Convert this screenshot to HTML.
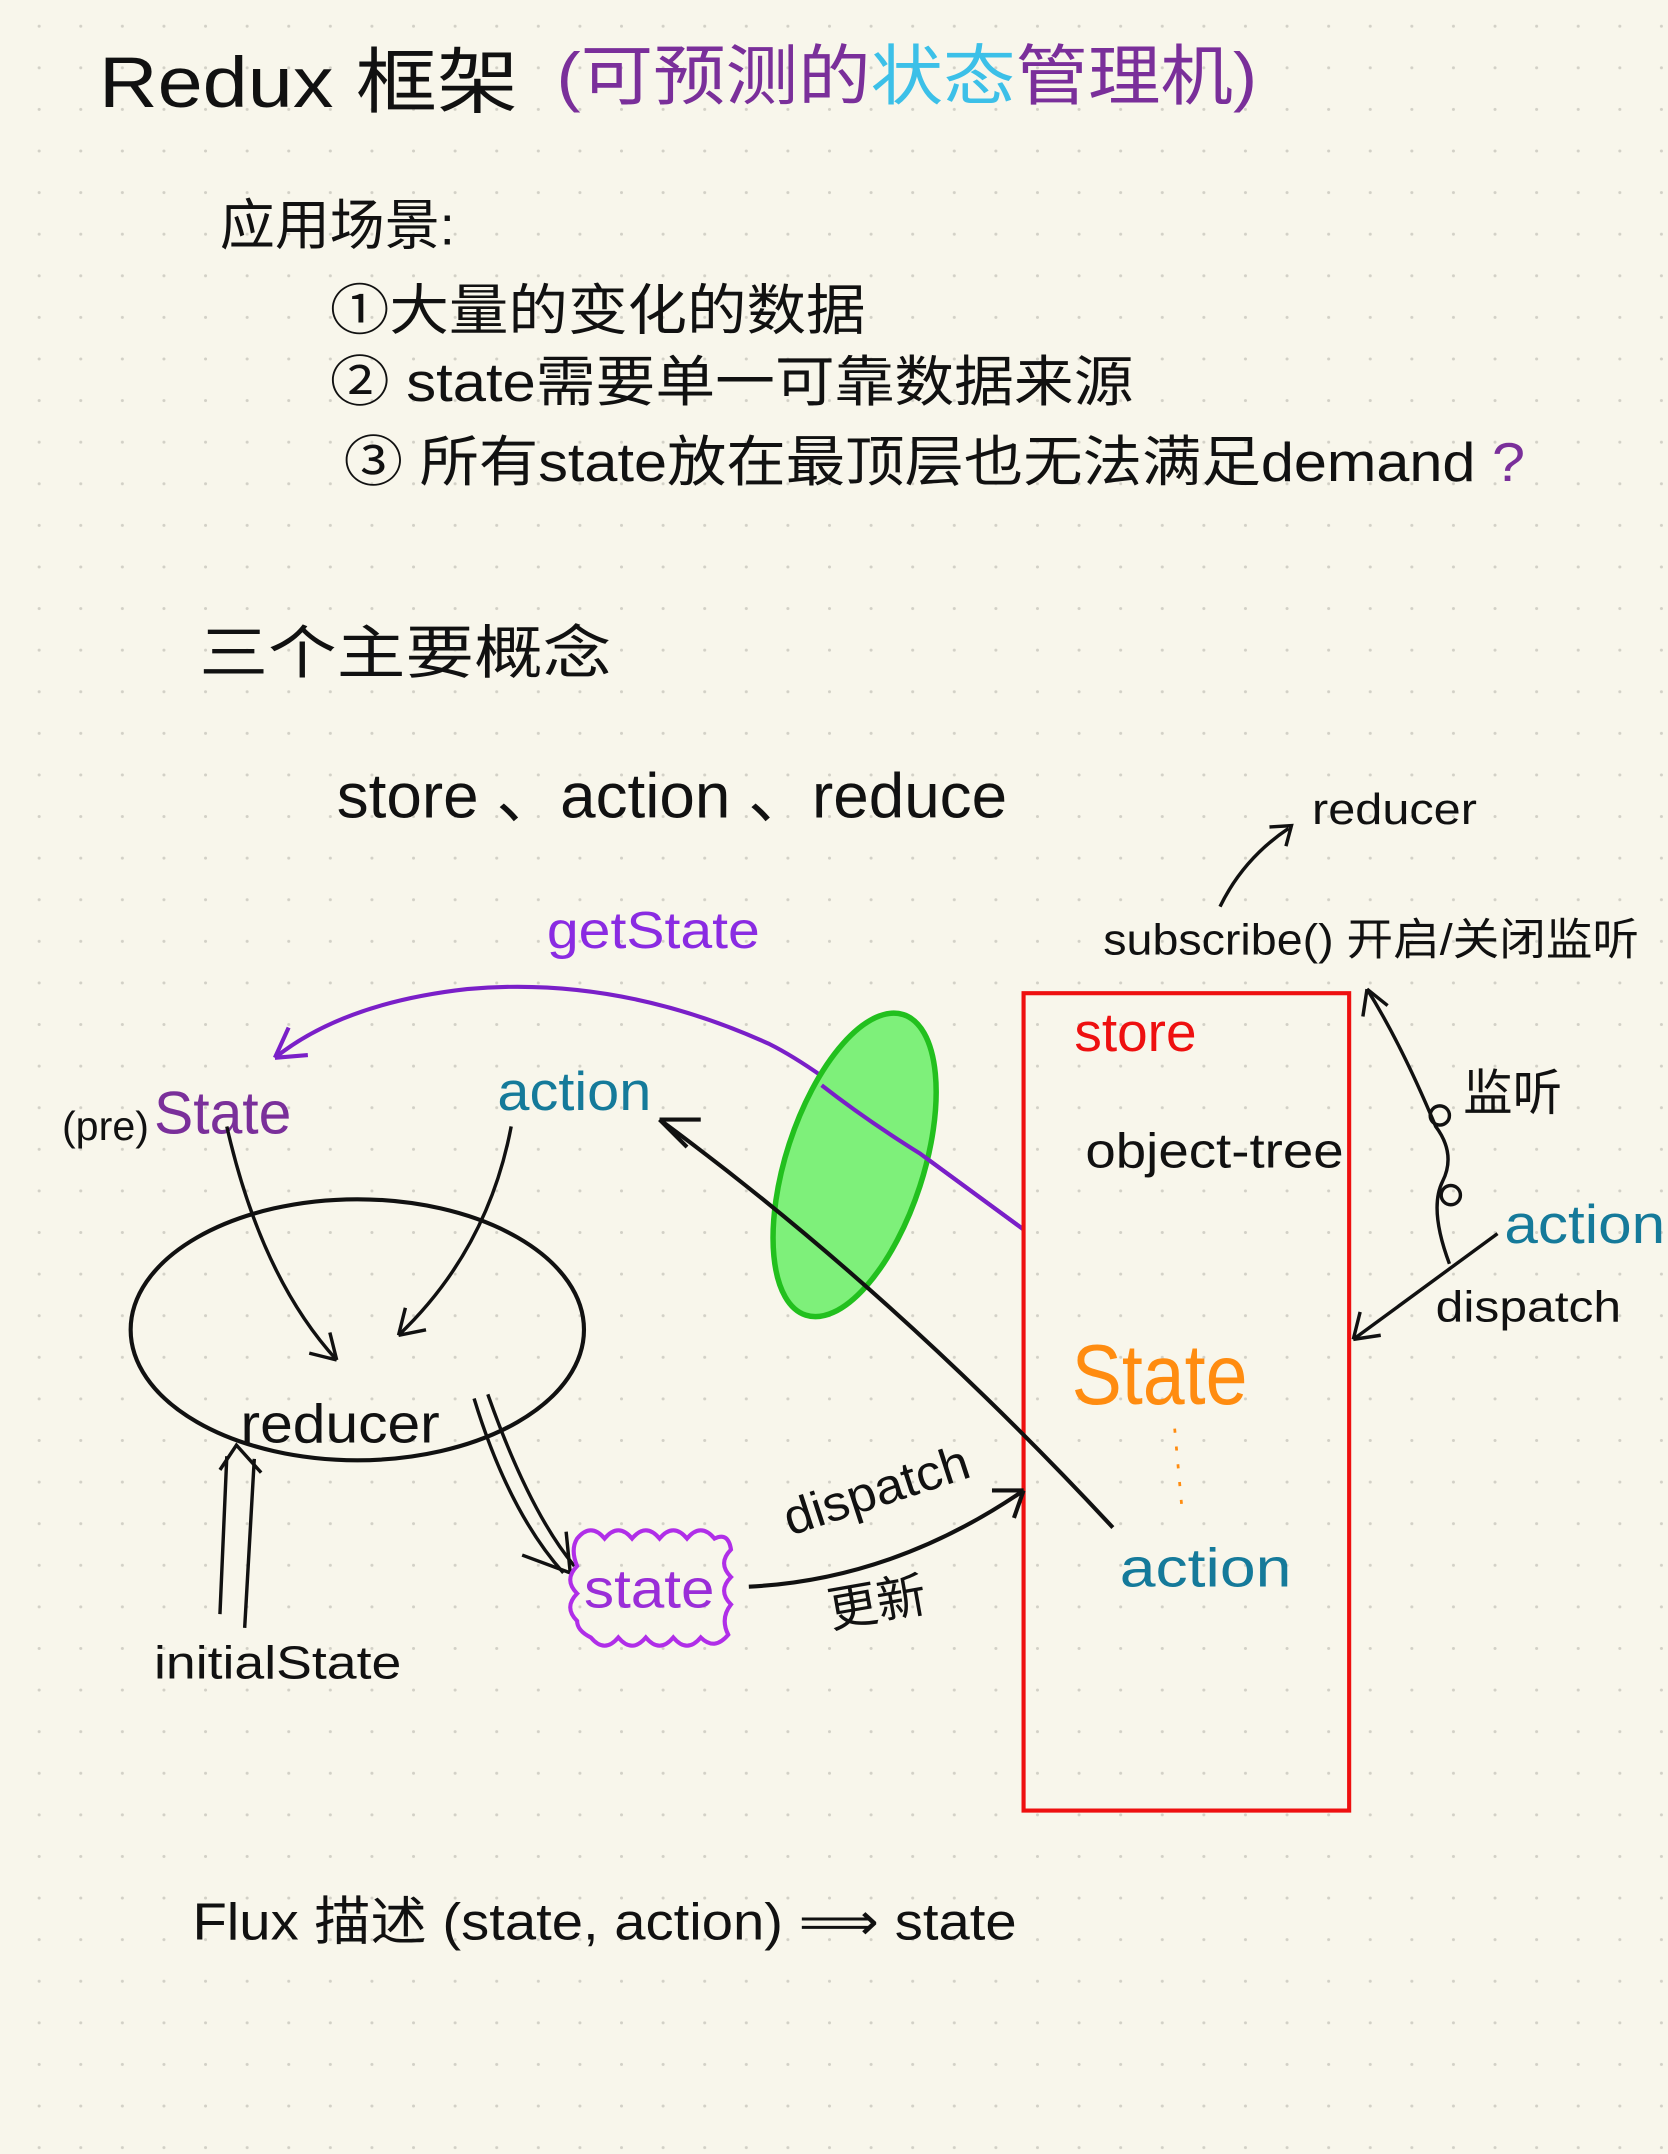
<!DOCTYPE html>
<html><head><meta charset="utf-8"><style>
html,body{margin:0;padding:0;background:#f8f6eb;}
svg{display:block;}
text{font-family:"Liberation Sans","Noto Sans CJK SC",sans-serif;}
</style></head><body>
<svg width="1668" height="2154" viewBox="0 0 1214 1568" xmlns="http://www.w3.org/2000/svg">
<defs>
<pattern id="dots" x="27.3" y="18" width="30.28" height="30.28" patternUnits="userSpaceOnUse">
<circle cx="1.1" cy="1.1" r="1.1" fill="#d2d0c6"/>
</pattern>
</defs>
<rect width="1214" height="1568" fill="#f8f6eb"/>
<rect width="1214" height="1568" fill="url(#dots)"/>

<text x="72" y="78" font-size="52" fill="#111" textLength="305" lengthAdjust="spacingAndGlyphs">Redux 框架</text>
<text x="405" y="72" font-size="48" fill="#7a2f9a" textLength="510" lengthAdjust="spacingAndGlyphs">(可预测的<tspan fill="#3cc0e8">状态</tspan>管理机)</text>

<text x="160" y="178" font-size="40" fill="#111">应用场景:</text>
<text x="240" y="240" font-size="40" fill="#111" textLength="390" lengthAdjust="spacingAndGlyphs">①大量的变化的数据</text>
<text x="240" y="292" font-size="40" fill="#111" textLength="585" lengthAdjust="spacingAndGlyphs">② state需要单一可靠数据来源</text>
<text x="250" y="350" font-size="40" fill="#111" textLength="860" lengthAdjust="spacingAndGlyphs">③ 所有state放在最顶层也无法满足demand <tspan fill="#7a2f9a">?</tspan></text>

<text x="145" y="490" font-size="42" fill="#111" textLength="300" lengthAdjust="spacingAndGlyphs">三个主要概念</text>
<text x="245" y="595" font-size="46" fill="#111" textLength="488" lengthAdjust="spacingAndGlyphs">store 、action 、reduce</text>

<text x="955" y="600" font-size="32" fill="#111" textLength="120" lengthAdjust="spacingAndGlyphs">reducer</text>
<path d="M888 660 Q905 625 938 603" fill="none" stroke="#111" stroke-width="2.5"/>
<path d="M924 602 L940 601 L936 616" fill="none" stroke="#111" stroke-width="2.5"/>
<text x="803" y="695" font-size="32" fill="#111" textLength="390" lengthAdjust="spacingAndGlyphs">subscribe() 开启/关闭监听</text>

<text x="398" y="690" font-size="38" fill="#8a2be2" textLength="155" lengthAdjust="spacingAndGlyphs">getState</text>
<path d="M745 895 L670 840 Q600 780 560 760 Q450 710 340 720 Q250 730 200 770" fill="none" stroke="#7a1fc8" stroke-width="3"/>
<path d="M200 770 L210 748 M200 770 L224 768" fill="none" stroke="#7a1fc8" stroke-width="3"/>

<ellipse cx="622" cy="848" rx="50" ry="115" transform="rotate(18 622 848)" fill="#7ef07a" stroke="#22c01e" stroke-width="4"/>
<path d="M745 895 L670 840 Q630 815 598 790" fill="none" stroke="#7a1fc8" stroke-width="3"/>

<rect x="745" y="723" width="237" height="595" fill="none" stroke="#ee1010" stroke-width="3"/>
<text x="782" y="765" font-size="40" fill="#ee1010">store</text>
<text x="790" y="850" font-size="36" fill="#111" textLength="188" lengthAdjust="spacingAndGlyphs">object-tree</text>
<text x="780" y="1022" font-size="62" fill="#ff8c10" textLength="128" lengthAdjust="spacingAndGlyphs">State</text>
<path d="M855 1040 L860 1095" stroke="#ff8c10" stroke-width="2" stroke-dasharray="3 10"/>
<text x="815" y="1155" font-size="40" fill="#157a9a" textLength="125" lengthAdjust="spacingAndGlyphs">action</text>

<path d="M810 1112 Q650 940 480 815" fill="none" stroke="#111" stroke-width="3"/>
<path d="M480 815 L510 815 M480 815 L500 835" fill="none" stroke="#111" stroke-width="3"/>
<text x="362" y="808" font-size="40" fill="#157a9a" textLength="112" lengthAdjust="spacingAndGlyphs">action</text>

<path d="M1055 920 Q1040 880 1050 860 Q1060 840 1045 820 Q1020 760 995 720" fill="none" stroke="#111" stroke-width="2.5"/>
<path d="M995 720 L992 740 M995 720 L1010 732" fill="none" stroke="#111" stroke-width="2.5"/>
<circle cx="1048" cy="812" r="7" fill="none" stroke="#111" stroke-width="2.5"/>
<circle cx="1056" cy="870" r="7" fill="none" stroke="#111" stroke-width="2.5"/>
<text x="1065" y="808" font-size="36" fill="#111">监听</text>
<text x="1095" y="905" font-size="40" fill="#157a9a" textLength="117" lengthAdjust="spacingAndGlyphs">action</text>
<path d="M1090 898 L985 975" fill="none" stroke="#111" stroke-width="2.5"/>
<path d="M985 975 L990 955 M985 975 L1005 972" fill="none" stroke="#111" stroke-width="2.5"/>
<text x="1045" y="962" font-size="32" fill="#111" textLength="135" lengthAdjust="spacingAndGlyphs">dispatch</text>

<text x="45" y="830" font-size="30" fill="#111">(pre)</text>
<text x="112" y="825" font-size="44" fill="#7a2f9a" textLength="100" lengthAdjust="spacingAndGlyphs">State</text>
<ellipse cx="260" cy="968" rx="165" ry="95" fill="none" stroke="#111" stroke-width="3"/>
<text x="175" y="1050" font-size="40" fill="#111" textLength="145" lengthAdjust="spacingAndGlyphs">reducer</text>
<path d="M165 820 Q190 930 245 990" fill="none" stroke="#111" stroke-width="2.5"/>
<path d="M245 990 L225 985 M245 990 L240 970" fill="none" stroke="#111" stroke-width="2.5"/>
<path d="M372 820 Q355 910 290 972" fill="none" stroke="#111" stroke-width="2.5"/>
<path d="M290 972 L295 952 M290 972 L310 968" fill="none" stroke="#111" stroke-width="2.5"/>
<path d="M160 1175 L165 1060 M178 1185 L185 1062" stroke="#111" stroke-width="2.5"/>
<path d="M160 1070 L172 1052 L190 1072" fill="none" stroke="#111" stroke-width="2.5"/>
<text x="112" y="1222" font-size="34" fill="#111" textLength="180" lengthAdjust="spacingAndGlyphs">initialState</text>
<path d="M345 1018 Q370 1100 410 1145 M355 1015 Q385 1100 418 1140" fill="none" stroke="#111" stroke-width="2.5"/>
<path d="M380 1132 L415 1145 L412 1115" fill="none" stroke="#111" stroke-width="2.5"/>

<path d="M420 1120 q10 -12 20 0 q10 -12 20 0 q10 -12 20 0 q10 -12 20 0 q10 -12 20 0 q10 -5 12 8 q-10 10 0 20 q-10 10 0 20 q-8 10 -2 22 q-10 12 -20 2 q-10 12 -20 0 q-10 12 -20 0 q-10 12 -20 0 q-10 12 -20 0 q-10 -5 -10 -12 q-10 -10 0 -20 q-10 -10 0 -20 q-5 -12 0 -20z" fill="none" stroke="#b02ee8" stroke-width="3"/>
<text x="425" y="1170" font-size="40" fill="#9a2ed8" textLength="95" lengthAdjust="spacingAndGlyphs">state</text>

<path d="M545 1155 Q650 1150 745 1085" fill="none" stroke="#111" stroke-width="3"/>
<path d="M745 1085 L722 1085 M745 1085 L738 1105" fill="none" stroke="#111" stroke-width="3"/>
<text x="575" y="1118" font-size="36" fill="#111" transform="rotate(-18 575 1118)" textLength="140" lengthAdjust="spacingAndGlyphs">dispatch</text>
<text x="605" y="1185" font-size="36" fill="#111" transform="rotate(-10 605 1185)">更新</text>

<text x="140" y="1412" font-size="38" fill="#111" textLength="600" lengthAdjust="spacingAndGlyphs">Flux 描述 (state, action) ⟹ state</text>
</svg>
</body></html>
